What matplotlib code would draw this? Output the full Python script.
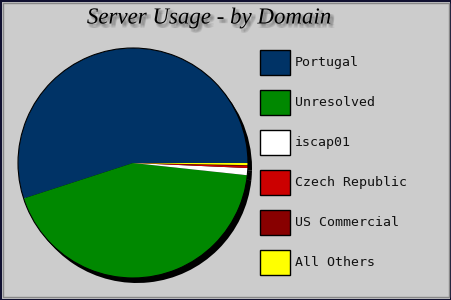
import matplotlib
matplotlib.use("Agg")
import matplotlib.pyplot as plt
import matplotlib.patheffects as pe
from matplotlib.patches import Rectangle

# Server usage by domain (percent of hits)
DOMAINS = ["Portugal", "Unresolved", "iscap01", "Czech Republic", "US Commercial", "All Others"]
SHARES = [55.0, 43.3, 1.0, 0.3, 0.1, 0.3]
COLORS = ["#003366", "#008800", "#ffffff", "#cc0000", "#880000", "#ffff00"]
TITLE = "Server Usage - by Domain"

W, H = 452, 300
BG = "#cccccc"

fig = plt.figure(figsize=(W / 100, H / 100), dpi=100, facecolor=BG)
ax = fig.add_axes([0, 0, 1, 1])

# frame round the picture
ax.add_patch(Rectangle((0.5, 0.5), W - 1, H - 1, fill=False, ec="#101030", lw=1.5, zorder=1))
ax.add_patch(Rectangle((3, 3), W - 6, H - 6, fill=False, ec="#888888", lw=1.0, zorder=1))

# pie with a drop shadow
cx, cy, r = 133, H - 163, 115
ax.pie(SHARES, colors=["black"] * len(SHARES), center=(cx + 4, cy - 5), radius=r,
       startangle=0, counterclock=True, wedgeprops=dict(lw=0), frame=True)
ax.pie(SHARES, colors=COLORS, center=(cx, cy), radius=r, startangle=0, counterclock=True,
       wedgeprops=dict(lw=0), frame=True)
ax.pie([sum(SHARES)], colors=["none"], center=(cx, cy), radius=r,
       wedgeprops=dict(lw=0.8, ec="black"), frame=True)
ax.set_xlim(0, W)
ax.set_ylim(0, H)
ax.set_aspect("equal")
ax.axis("off")

# title with a soft (faked blur) shadow
blur = [pe.SimplePatchShadow(offset=(2 + dx, -2 + dy), shadow_rgbFace="#555555", alpha=0.12)
        for dx in (-1, 0, 1) for dy in (-1, 0, 1)]
ax.text(209, H - 18, TITLE, ha="center", va="center", fontsize=16.5, style="italic",
        family="Liberation Serif", color="black", path_effects=blur + [pe.Normal()])

# legend
for i, (name, col) in enumerate(zip(DOMAINS, COLORS)):
    top = 50 + 40 * i
    ax.add_patch(Rectangle((260.5, H - top - 25), 30, 25, fc=col, ec="black", lw=1.0))
    ax.text(295, H - top - 12.5, name, ha="left", va="center", fontsize=9.5,
            family="DejaVu Sans Mono", color="#111111")

fig.savefig("out.png", dpi=100, facecolor=BG)
